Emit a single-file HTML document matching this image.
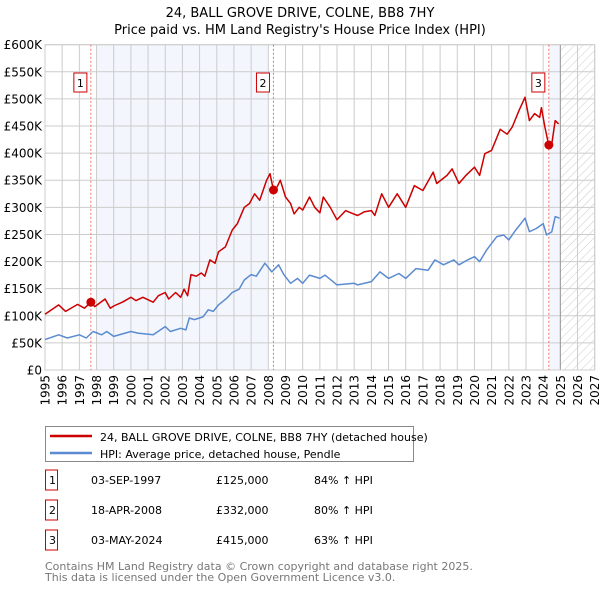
<!DOCTYPE html>
<html><head><meta charset="utf-8"><style>
body{margin:0;background:#fff;font-family:"Liberation Sans","DejaVu Sans",sans-serif;}
svg text{font-family:"DejaVu Sans","Liberation Sans",sans-serif;}
</style></head><body>
<svg id="c" width="600" height="590" xmlns="http://www.w3.org/2000/svg">
<defs><pattern id="hatch" width="6" height="6" patternUnits="userSpaceOnUse" patternTransform="rotate(45)"><line x1="0" y1="0" x2="0" y2="6" stroke="#ccc" stroke-width="1"/></pattern></defs>
<text x="300" y="17" text-anchor="middle" font-size="13">24, BALL GROVE DRIVE, COLNE, BB8 7HY</text>
<text x="300" y="34" text-anchor="middle" font-size="13">Price paid vs. HM Land Registry's House Price Index (HPI)</text>
<g id="plot"></g>
<g>
<rect x="45.5" y="426.5" width="368" height="35" fill="#fff" stroke="#888"/>
<line x1="50" y1="436" x2="92" y2="436" stroke="#cc0000" stroke-width="2.5"/>
<text x="100" y="441" font-size="11">24, BALL GROVE DRIVE, COLNE, BB8 7HY (detached house)</text>
<line x1="50" y1="453" x2="92" y2="453" stroke="#5b8bd0" stroke-width="2.5"/>
<text x="100" y="458" font-size="11">HPI: Average price, detached house, Pendle</text>
</g>
<g id="table" font-size="11"></g>
<text x="45" y="570" font-size="11" fill="#777">Contains HM Land Registry data © Crown copyright and database right 2025.</text>
<text x="45" y="581" font-size="11" fill="#777">This data is licensed under the Open Government Licence v3.0.</text>
</svg>
<script>
const yearTicks=[1995,1996,1997,1998,1999,2000,2001,2002,2003,2004,2005,2006,2007,2008,2009,2010,2011,2012,2013,2014,2015,2016,2017,2018,2019,2020,2021,2022,2023,2024,2025,2026,2027];
const valueTicks=[0,50,100,150,200,250,300,350,400,450,500,550,600];
const valueLabels=["£0","£50K","£100K","£150K","£200K","£250K","£300K","£350K","£400K","£450K","£500K","£550K","£600K"];
const redYears=[1995,1995.8,1996.2,1996.9,1997.3,1997.67,1997.9,1998.5,1998.8,1999.0,1999.5,2000.0,2000.3,2000.7,2001.3,2001.6,2002.0,2002.2,2002.6,2002.9,2003.1,2003.3,2003.5,2003.8,2004.1,2004.3,2004.6,2004.9,2005.1,2005.5,2005.9,2006.2,2006.6,2006.9,2007.2,2007.5,2007.9,2008.1,2008.3,2008.5,2008.7,2009.0,2009.3,2009.5,2009.8,2010.0,2010.4,2010.7,2011.0,2011.2,2011.6,2012.0,2012.5,2012.8,2013.2,2013.6,2014.0,2014.2,2014.6,2015.0,2015.5,2016.0,2016.5,2017.0,2017.6,2017.8,2018.4,2018.7,2019.1,2019.5,2020.0,2020.3,2020.6,2021.0,2021.5,2021.9,2022.2,2022.6,2022.94,2023.2,2023.5,2023.8,2023.9,2024.1,2024.33,2024.5,2024.7,2024.9];
const redValues=[103,120,108,121,114,125,117,131,114,118,125,134,128,134,125,137,143,131,143,134,149,137,176,173,179,173,203,197,218,227,258,270,300,307,325,313,350,362,331,337,350,319,307,288,300,295,319,300,290,319,300,277,294,290,285,292,294,285,325,300,325,300,340,331,365,344,359,371,344,359,374,359,399,405,444,435,448,479,503,460,473,466,484,448,414,417,460,454];
const hpiYears=[1995,1995.8,1996.3,1997,1997.4,1997.8,1998.3,1998.6,1999.0,2000.0,2000.4,2001.3,2002.0,2002.3,2002.9,2003.2,2003.4,2003.7,2004.2,2004.5,2004.8,2005.1,2005.6,2005.9,2006.3,2006.6,2007.0,2007.3,2007.8,2008.2,2008.6,2008.9,2009.3,2009.7,2010.0,2010.4,2011.0,2011.3,2012.0,2013.0,2013.2,2014.0,2014.5,2015.0,2015.6,2016.0,2016.6,2017.3,2017.7,2018.2,2018.8,2019.1,2019.6,2020.0,2020.3,2020.7,2021.3,2021.7,2022.0,2022.4,2022.95,2023.2,2023.6,2024.0,2024.2,2024.5,2024.7,2024.95];
const hpiValues=[56,65,59,65,59,71,65,71,62,71,68,65,80,71,77,74,96,93,98,111,108,120,133,143,149,166,176,173,197,181,194,176,160,169,160,175,169,175,157,160,157,163,181,169,178,169,187,184,203,194,203,194,203,209,200,221,246,249,240,258,280,255,261,270,249,255,283,280];
const saleYears=[1997.67,2008.3,2024.33];
const saleValues=[125,332,415];
const saleLabels=["1","2","3"];
const saleDates=["03-SEP-1997","18-APR-2008","03-MAY-2024"];
const salePrices=["£125,000","£332,000","£415,000"];
const salePct=["84% ↑ HPI","80% ↑ HPI","63% ↑ HPI"];

const L=45,R=594.7,T=44.7,B=370,Y0=1995,Y1=2027,VMAX=600;
const xs=y=>L+(y-Y0)/(Y1-Y0)*(R-L);
const ys=v=>B-v/VMAX*(B-T);
const NS="http://www.w3.org/2000/svg";
function mk(tag,attrs,parent){const e=document.createElementNS(NS,tag);for(const k in attrs)e.setAttribute(k,attrs[k]);parent.appendChild(e);return e;}
const g=document.getElementById('plot');
let sh=mk('rect',{x:xs(1998),y:T,width:xs(2008)-xs(1998),height:B-T,fill:'#f3f6fd'},g);


let sh2=mk('rect',{x:xs(saleYears[2]),y:T,width:xs(2025)-xs(saleYears[2]),height:B-T,fill:'#f3f6fd'},g);


let hz=mk('rect',{x:xs(2025),y:T,width:R-xs(2025),height:B-T,fill:'url(#hatch)'},g);


valueTicks.forEach((v,i)=>{
 mk('line',{x1:L,x2:R,y1:ys(v),y2:ys(v),stroke:'#ccc','stroke-width':1},g);
 const t=mk('text',{x:L-3,y:ys(v)+4.5,'text-anchor':'end','font-size':12},g);t.textContent=valueLabels[i];
 
 
});
yearTicks.forEach(y=>{
 mk('line',{x1:xs(y),x2:xs(y),y1:T,y2:B,stroke:'#ccc','stroke-width':1},g);
 const t=mk('text',{x:0,y:0,'text-anchor':'end','font-size':12,transform:`translate(${xs(y)+4.5},${B+5}) rotate(-90)`},g);t.textContent=y;
 
 
});
mk('line',{x1:xs(2025),x2:xs(2025),y1:T,y2:B,stroke:'#999','stroke-width':1},g);
mk('rect',{x:L,y:T,width:R-L,height:B-T,fill:'none',stroke:'#ccc'},g);
saleYears.forEach((y,i)=>{
 const l=mk('line',{x1:xs(y),x2:xs(y),y1:T,y2:B,stroke:'#f07070','stroke-width':1,'stroke-dasharray':'2,2'},g);
 
 
});
function path(xa,va,color,name){
 const d=xa.map((y,i)=>(i?'L':'M')+xs(y).toFixed(1)+','+ys(va[i]).toFixed(1)).join('');
 const p=mk('path',{d:d,fill:'none',stroke:color,'stroke-width':1.5,'stroke-linejoin':'round'},g);
 
 
}
path(hpiYears,hpiValues,'#5b8bd0','hpi-line');
path(redYears,redValues,'#cc0000','price-paid-line');
saleYears.forEach((y,i)=>{
 const c=mk('circle',{cx:xs(y),cy:ys(saleValues[i]),r:4.5,fill:'#cc0000'},g);
 
 
 const bx=xs(y)-4-13;
 const b=mk('rect',{x:bx,y:73,width:13,height:19,fill:'#fff',stroke:'#cc0000'},g);
 
 
 const t=mk('text',{x:bx+6.5,y:87,'text-anchor':'middle','font-size':11},g);t.textContent=saleLabels[i];
});
const tb=document.getElementById('table');
saleLabels.forEach((s,i)=>{
 const y=483+i*30;
 const b=mk('rect',{x:45.5,y:y-13,width:12,height:20,fill:'#fff',stroke:'#cc0000'},tb);
 
 
 [[49,s],[91,saleDates[i]],[216,salePrices[i]],[314,salePct[i]]].forEach(([x,txt])=>{
  const t=mk('text',{x:x,y:y+1,'font-size':11,'font-family':'Liberation Sans, sans-serif'},tb);t.textContent=txt;
  
  
 });
});
</script>
</body></html>
